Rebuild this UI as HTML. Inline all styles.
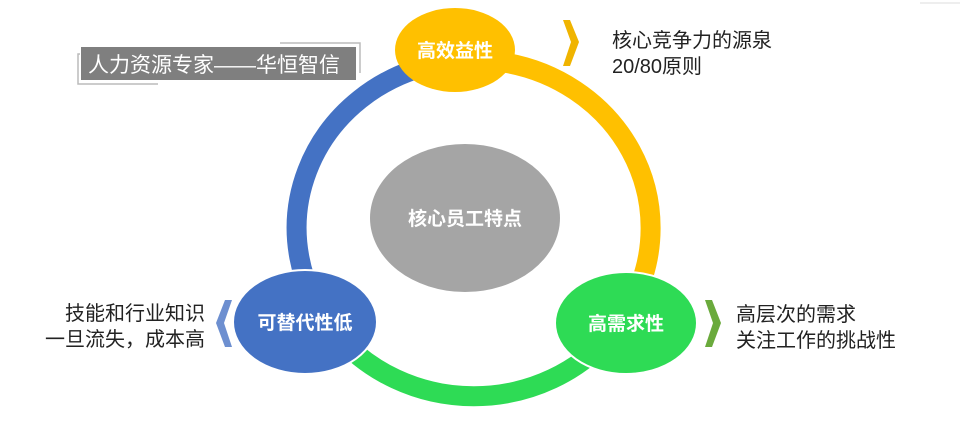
<!DOCTYPE html>
<html><head><meta charset="utf-8"><style>
body{margin:0;width:975px;height:434px;background:#fff;overflow:hidden;font-family:"Liberation Sans","Noto Sans CJK SC",sans-serif}
</style></head><body>
<svg width="975" height="434" xmlns="http://www.w3.org/2000/svg" style="position:absolute;left:0;top:0">
<line x1="920" y1="3" x2="960" y2="3" stroke="#ddd"/>
<path d="M338,336 A177,168 0 0 1 443,62.6" fill="none" stroke="#4472c4" stroke-width="20"/>
<path d="M505,62.6 A177,168 0 0 1 634,299" fill="none" stroke="#ffc000" stroke-width="20"/>
<path d="M609.6,336 A177,168 0 0 1 338,336" fill="none" stroke="#2edb55" stroke-width="20"/>
<ellipse cx="465" cy="218" rx="95" ry="74" fill="#a5a5a5"/>
<ellipse cx="455" cy="50" rx="60" ry="42" fill="#ffc000"/>
<ellipse cx="626" cy="323" rx="71" ry="51" fill="#2edb55" stroke="#fff" stroke-width="2"/>
<ellipse cx="305" cy="322" rx="72" ry="52" fill="#4472c4" stroke="#fff" stroke-width="2"/>
<g fill="#fff" font-weight="bold" font-size="19" text-anchor="middle" font-family="Liberation Sans,Noto Sans CJK SC,sans-serif">
<text x="465" y="225">核心员工特点</text>
<text x="455" y="57">高效益性</text>
<text x="626" y="330">高需求性</text>
<text x="305" y="329">可替代性低</text>
</g>
<path d="M563,20 L570,20 L579,42 L570,66 L563,66 L571,42 Z" fill="#f0b400"/>
<path d="M705,300 L712,300 L721,323 L712,347 L705,347 L713,323 Z" fill="#6aaa3c"/>
<path d="M232,300 L225,300 L216,323 L225,347 L232,347 L224,323 Z" fill="#6d8fd0"/>
<rect x="81" y="47" width="275" height="33" fill="#7f7f7f"/>
<polyline points="80,54 78,54 78,84 158,84" fill="none" stroke="#bbb" stroke-width="1.5"/>
<polyline points="280,43 360,43 360,73" fill="none" stroke="#bbb" stroke-width="1.5"/>
<g font-family="Liberation Sans,Noto Sans CJK SC,sans-serif" font-size="20">
<text x="88" y="72" fill="#fff" font-size="21">人力资源专家——华恒智信</text>
<text x="612" y="47" fill="#222">核心竞争力的源泉</text>
<text x="612" y="73" fill="#222">20/80原则</text>
<text x="736" y="321" fill="#222">高层次的需求</text>
<text x="736" y="347" fill="#222">关注工作的挑战性</text>
<text x="205" y="320" fill="#222" text-anchor="end">技能和行业知识</text>
<text x="205" y="346" fill="#222" text-anchor="end">一旦流失，成本高</text>
</g>
</svg>
</body></html>
